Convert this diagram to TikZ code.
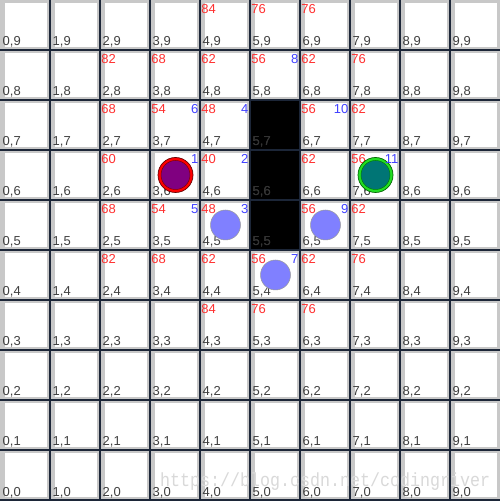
\documentclass[tikz,border=0pt]{standalone}
\usepackage{fontspec}
\setmainfont{Liberation Sans}
\newfontfamily\wmfont{Liberation Mono}
\definecolor{cellg}{HTML}{C8C8C8}
\definecolor{gridc}{HTML}{1C2638}
\definecolor{lblc}{HTML}{404040}
\definecolor{costc}{HTML}{FF3030}
\definecolor{ordc}{HTML}{4040FF}
\definecolor{pathc}{HTML}{8080FF}
\definecolor{startfill}{HTML}{800080}
\definecolor{goalfill}{HTML}{007575}
\definecolor{goalring}{HTML}{22DD22}
\begin{document}
\begin{tikzpicture}[x=1pt,y=1pt,
  gridline/.style={draw=gridc,line width=1.1pt},
  coordlbl/.style={inner sep=0pt,anchor=base west,text=lblc,font=\fontsize{13}{13}\selectfont},
  costlbl/.style={inner sep=0pt,anchor=base west,text=costc,font=\fontsize{13}{13}\selectfont},
  ordlbl/.style={inner sep=0pt,anchor=base east,text=ordc,font=\fontsize{13}{13}\selectfont},
  pathdot/.style={circle,inner sep=0pt,minimum size=30pt,fill=pathc,draw=gray!80,line width=0.5pt},
  ringc/.style={circle,inner sep=0pt,minimum size=35pt,line width=0.7pt},
  corec/.style={circle,inner sep=0pt,minimum size=29pt,line width=0.5pt}]
\useasboundingbox (0,0) rectangle (500,501);
\fill[white] (0,0) rectangle (500,501);
% cells
\foreach \i in {0,...,9}{
  \foreach \j in {0,...,9}{
    \fill[cellg] (50*\i,50*\j+1) rectangle ++(50,50);
    \fill[white] (50*\i+4.5,50*\j+4) rectangle (50*\i+47,50*\j+47.5);
  }
}
% walls
\foreach \j in {5,6,7}{
  \fill[black] (250,50*\j+1) rectangle ++(50,50);
}
% watermark
\node[inner sep=0pt,anchor=base west,text=gray!30,font=\wmfont\fontsize{19}{19}\selectfont,xscale=0.877] (wm) at (160,14) {https://blog.csdn.net/codingriver};
% grid lines
\foreach \k in {1,...,9}{
  \draw[gridline] (50*\k,0) -- (50*\k,501);
}
\foreach \k in {0,...,9}{
  \draw[gridline] (0,50*\k+1) -- (500,50*\k+1);
}
% coordinate labels
\foreach \i in {0,...,9}{
  \foreach \j in {0,...,9}{
    \node[coordlbl] (lbl-\i-\j) at (50*\i+2.5,50*\j+5) {\i,\j};
  }
}
\foreach \j in {5,6,7}{
  \node[coordlbl,text=black!80] (wlbl-\j) at (252.5,50*\j+5) {5,\j};
}
% cost values
\foreach \i/\j/\v in {4/9/84,5/9/76,6/9/76,
  2/8/82,3/8/68,4/8/62,5/8/56,6/8/62,7/8/76,
  2/7/68,3/7/54,4/7/48,6/7/56,7/7/62,
  2/6/60,4/6/40,6/6/62,7/6/56,
  2/5/68,3/5/54,4/5/48,6/5/56,7/5/62,
  2/4/82,3/4/68,4/4/62,5/4/56,6/4/62,7/4/76,
  4/3/84,5/3/76,6/3/76}{
  \node[costlbl] (cost-\i-\j) at (50*\i+1.2,50*\j+37.5) {\v};
}
% path dots
\node[pathdot] (p45) at (225.5,276) {};
\node[pathdot] (p65) at (325.5,276) {};
\node[pathdot] (p54) at (275.5,226) {};
% start and goal
\node[ringc,fill=red,draw=black!60!red] (startring) at (175.5,326) {};
\node[corec,fill=startfill,draw=black!50!red] (start) at (175.5,326) {};
\node[ringc,fill=goalring,draw=black!60!green] (goalring) at (375.5,326) {};
\node[corec,fill=goalfill,draw=black!50!green] (goal) at (375.5,326) {};
% order values
\foreach \i/\j/\v in {3/6/1,4/6/2,4/5/3,4/7/4,3/5/5,3/7/6,5/4/7,5/8/8,6/5/9,6/7/10,7/6/11}{
  \node[ordlbl] (ord-\i-\j) at (50*\i+48.5,50*\j+37.5) {\v};
}
\end{tikzpicture}
\end{document}
